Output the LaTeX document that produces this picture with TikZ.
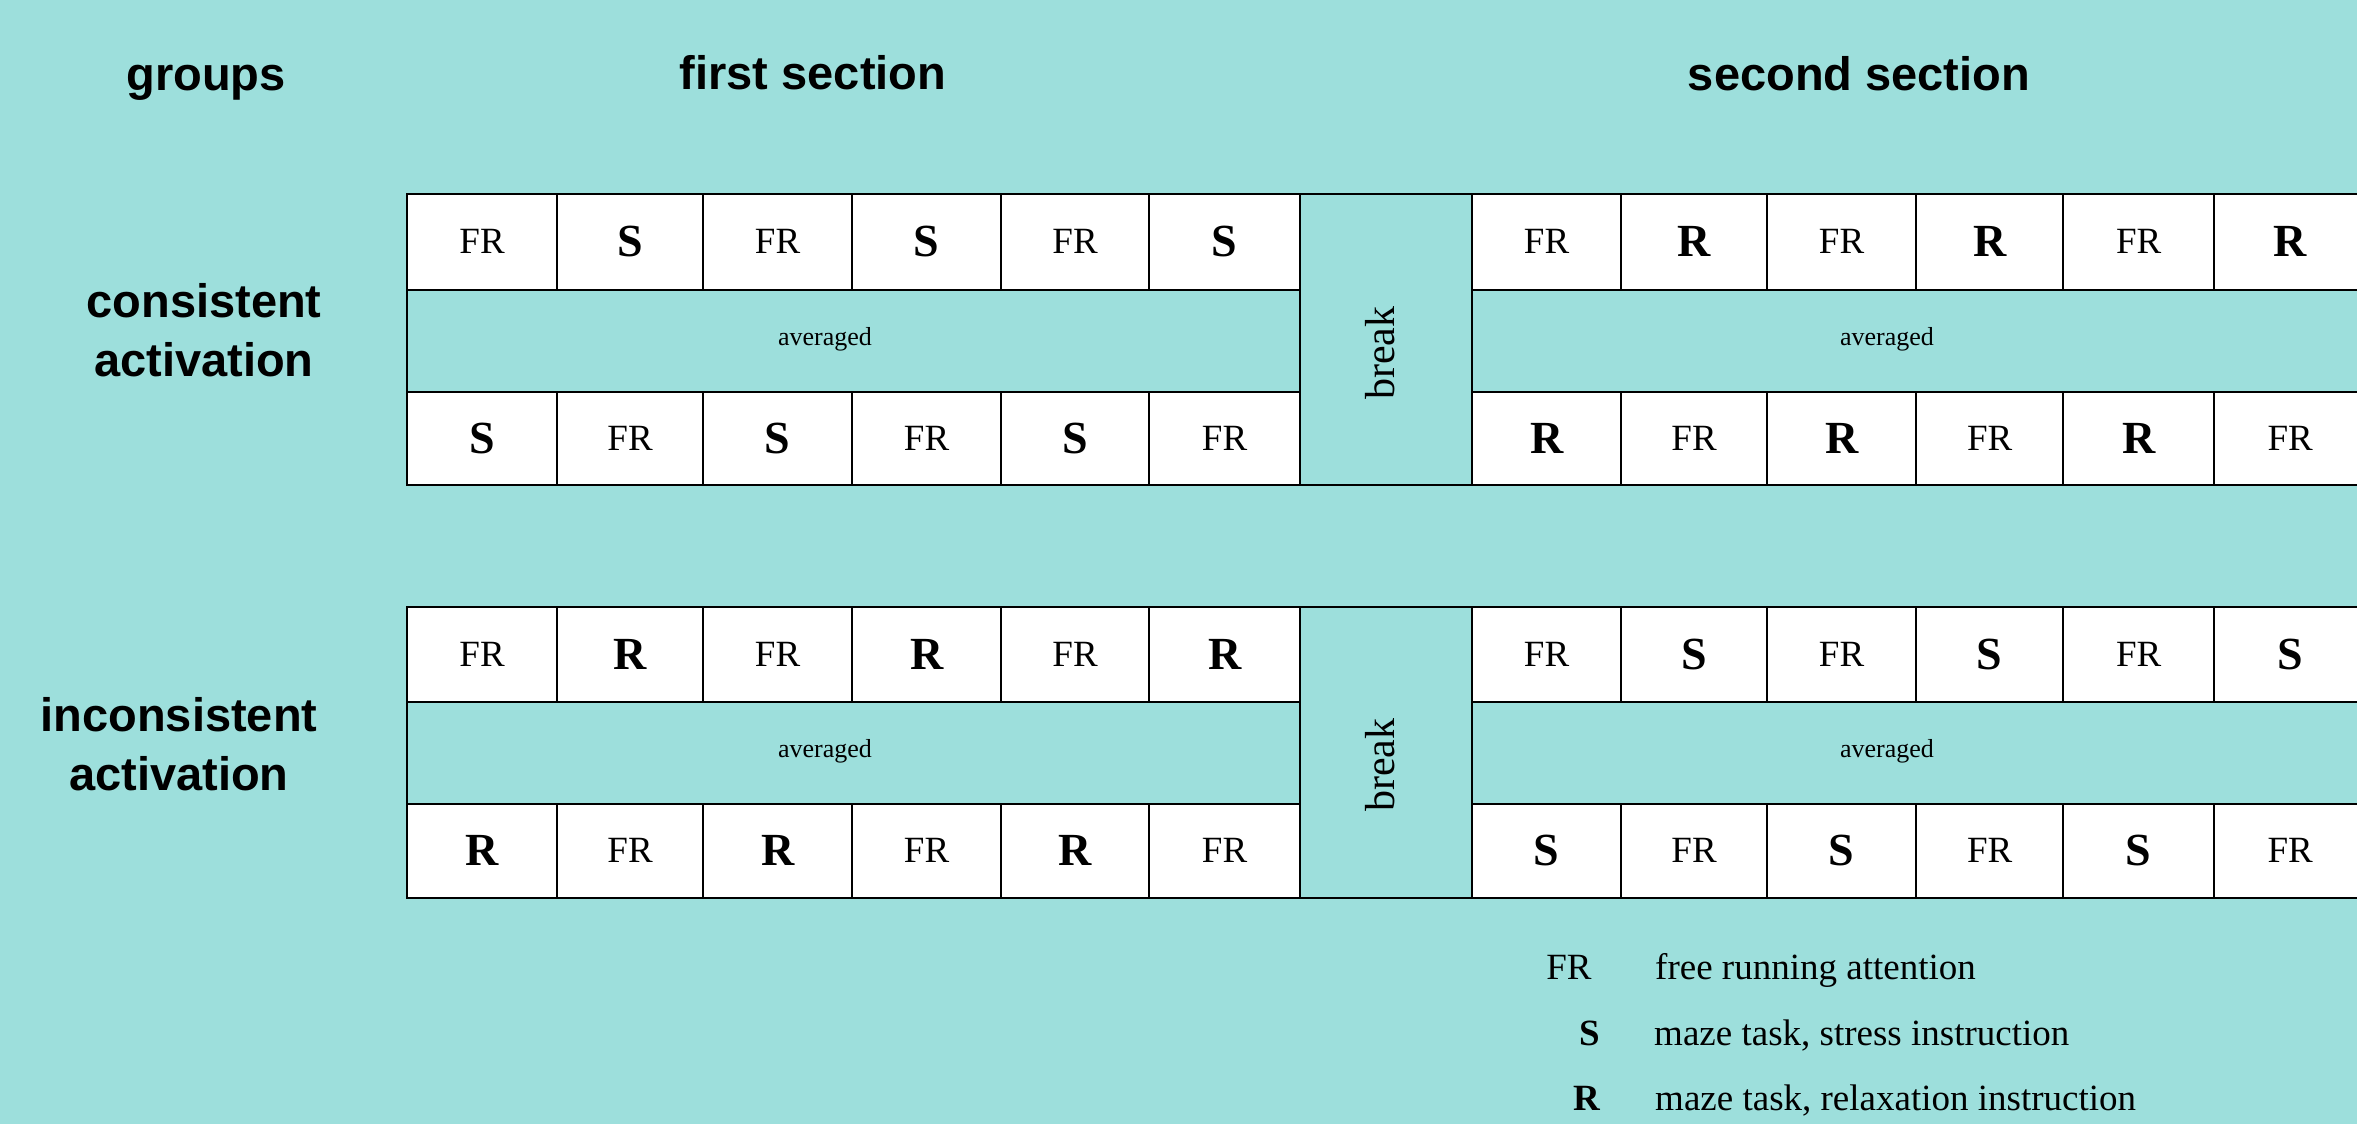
\documentclass[tikz,border=0pt]{standalone}
\usepackage{fontspec}
\setmainfont{Liberation Serif}
\setsansfont{Liberation Sans}
\definecolor{bg}{RGB}{157,223,220}
\newcommand\frtext{\fontsize{37}{40}\selectfont FR}
\newcommand\bigletter[1]{\fontsize{46}{50}\selectfont\bfseries #1}
\def\LX{1/406/556,2/556/702,3/702/851,4/851/1000,5/1000/1148,6/1148/1299}
\def\RX{1/1471/1620,2/1620/1766,3/1766/1915,4/1915/2062,5/2062/2213,6/2213/2365}
% #1 name, #2 top, #3 bottom, #4 letter, #5 parity, #6 list
\newcommand\cellrow[6]{%
  \foreach \i/\xa/\xb in #6{%
    \pgfmathsetmacro\myw{\xb-\xa}%
    \pgfmathsetmacro\myh{#3-#2}%
    \pgfmathtruncatemacro\myp{mod(\i+#5,2)}%
    \ifnum\myp=1 \def\mytxt{\frtext}\else\def\mytxt{\bigletter{#4}}\fi
    \node[cell, minimum width=\myw pt, minimum height=\myh pt] (#1-\i) at (\xa,#2) {\mytxt};
  }%
}
\begin{document}
\begin{tikzpicture}[x=1pt,y=-1pt,
  cell/.style={draw=black, line width=2.2pt, fill=white, inner sep=0pt, anchor=north west},
  band/.style={draw=black, line width=2.2pt, fill=bg, inner sep=0pt, anchor=north west},
  head/.style={font=\sffamily\bfseries\fontsize{47}{59}\selectfont, inner sep=0pt, align=center},
  avgtext/.style={font=\fontsize{26}{30}\selectfont, inner sep=0pt},
  breaktext/.style={font=\fontsize{42}{46}\selectfont, inner sep=0pt, rotate=90},
  legkey/.style={font=\fontsize{37}{40}\selectfont, inner sep=0pt},
  legtext/.style={font=\fontsize{37}{40}\selectfont, inner sep=0pt, anchor=base west}]
\fill[bg] (0,0) rectangle (2357,1124);
\useasboundingbox (0,0) rectangle (2357,1124);

% headings
\node[head, anchor=base] (hgroups) at (206,90) {groups};
\node[head, anchor=base] (hfirst) at (813,89.5) {first section};
\node[head, anchor=base] (hsecond) at (1859,90) {second section};
\node[head] (gcons) at (204,330) {consistent\\activation};
\node[head] (gincons) at (179,744) {inconsistent\\activation};

% table 1: consistent activation
\cellrow{t1aL}{192.5}{288.5}{S}{0}{\LX}
\cellrow{t1aR}{192.5}{288.5}{R}{0}{\RX}
\node[band, minimum width=893pt, minimum height=102.5pt] (t1avgL) at (406,288.5) {};
\node[band, minimum width=894pt, minimum height=102.5pt] (t1avgR) at (1471,288.5) {};
\node[band, minimum width=172pt, minimum height=291.5pt] (t1break) at (1299,192.5) {};
\cellrow{t1bL}{391}{484}{S}{1}{\LX}
\cellrow{t1bR}{391}{484}{R}{1}{\RX}
\node[avgtext] (t1avgLt) at (825,339.5) {averaged};
\node[avgtext] (t1avgRt) at (1887,339.5) {averaged};
\node[breaktext] (t1breakt) at (1380,353) {break};

% table 2: inconsistent activation
\cellrow{t2aL}{605.5}{700.5}{R}{0}{\LX}
\cellrow{t2aR}{605.5}{700.5}{S}{0}{\RX}
\node[band, minimum width=893pt, minimum height=102pt] (t2avgL) at (406,700.5) {};
\node[band, minimum width=894pt, minimum height=102pt] (t2avgR) at (1471,700.5) {};
\node[band, minimum width=172pt, minimum height=291pt] (t2break) at (1299,605.5) {};
\cellrow{t2bL}{802.5}{896.5}{R}{1}{\LX}
\cellrow{t2bR}{802.5}{896.5}{S}{1}{\RX}
\node[avgtext] (t2avgLt) at (825,751.5) {averaged};
\node[avgtext] (t2avgRt) at (1887,751.5) {averaged};
\node[breaktext] (t2breakt) at (1380,765) {break};

% legend
\node[legkey, anchor=base] (kFR) at (1569,979) {FR};
\node[legkey, anchor=base east] (kS) at (1600,1045) {\bfseries S};
\node[legkey, anchor=base east] (kR) at (1600,1110) {\bfseries R};
\node[legtext] (lFR) at (1655,979) {free running attention};
\node[legtext] (lS) at (1654,1045) {maze task, stress instruction};
\node[legtext] (lR) at (1655,1110) {maze task, relaxation instruction};
\end{tikzpicture}
\end{document}
